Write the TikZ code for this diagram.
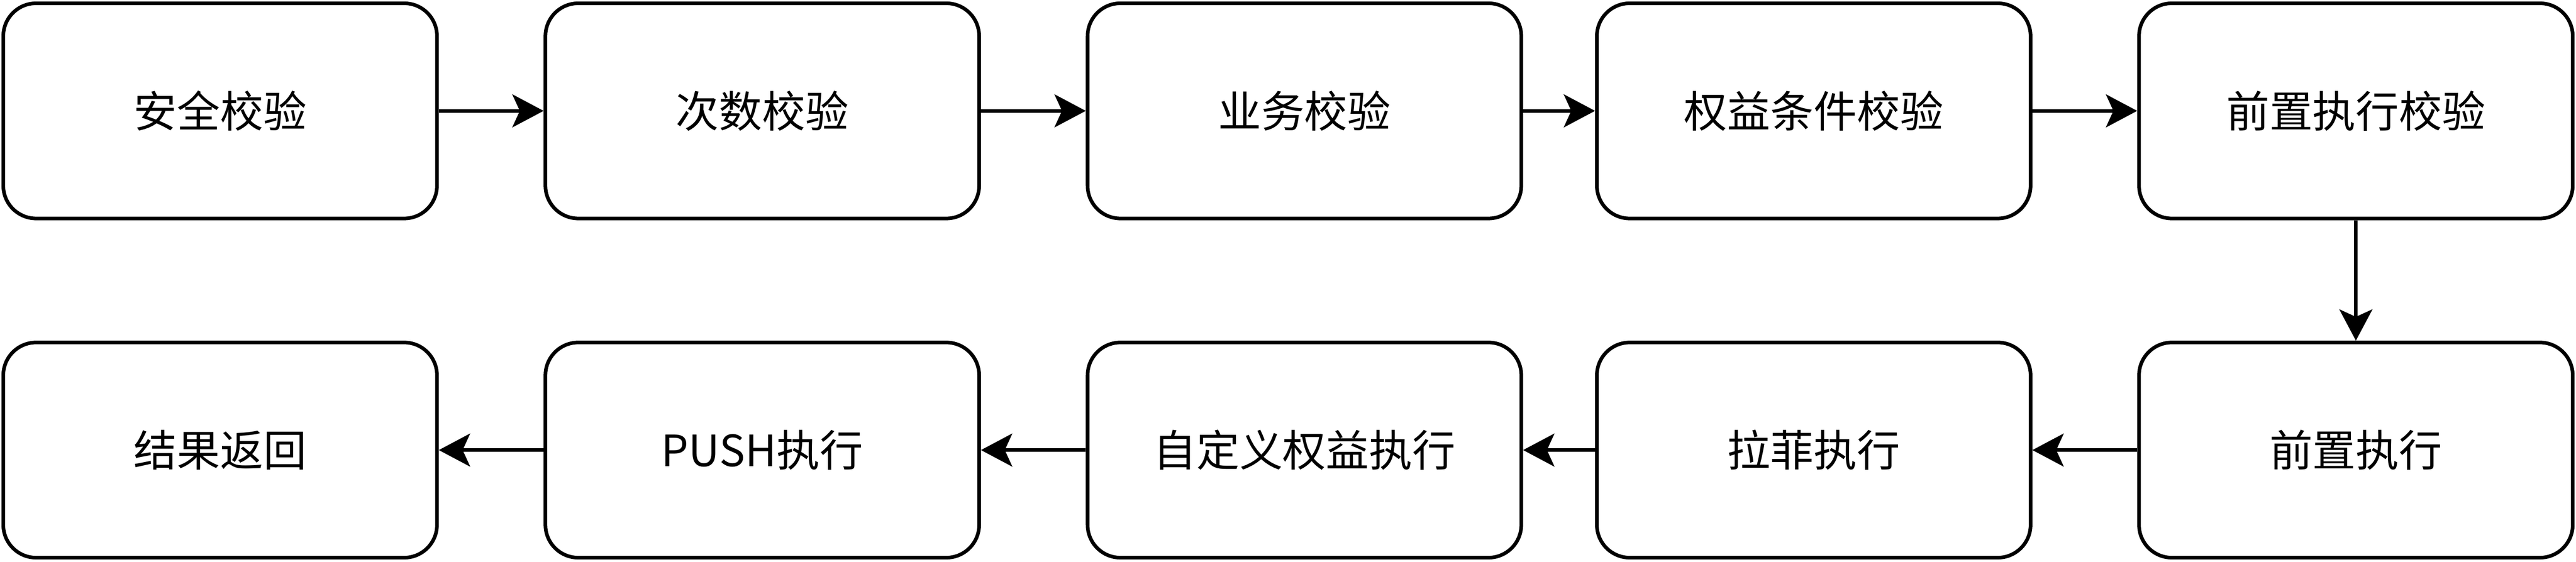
\documentclass[tikz,border=0pt]{standalone}
\usepackage{fontspec}
\setmainfont{Noto Sans CJK SC}
\usetikzlibrary{arrows.meta}

\begin{document}
\begin{tikzpicture}[x=1pt,y=1pt,
    stage/.style={draw,line width=2.2pt,rounded corners=20pt,minimum width=264pt,minimum height=131pt,inner sep=0pt,font=\fontsize{26.3}{30}\selectfont},
    move/.style={-{Stealth[length=19pt,width=20pt,inset=4.5pt]},line width=2.2pt,draw}]

    \useasboundingbox (0,0) rectangle (1568,342);
    \node[stage] (safe) at (134,274.5) {安全校验};
    \node[stage] (count) at (464,274.5) {次数校验};
    \node[stage] (biz) at (794,274.5) {业务校验};
    \node[stage] (cond) at (1104,274.5) {权益条件校验};
    \node[stage] (precheck) at (1434,274.5) {前置执行校验};
    \node[stage] (pre) at (1434,68) {前置执行};
    \node[stage] (lafei) at (1104,68) {拉菲执行};
    \node[stage] (custom) at (794,68) {自定义权益执行};
    \node[stage] (push) at (464,68) {PUSH执行};
    \node[stage] (result) at (134,68) {结果返回};

    \path[move] (safe) -- (count);
    \path[move] (count) -- (biz);
    \path[move] (biz) -- (cond);
    \path[move] (cond) -- (precheck);
    \path[move] (precheck) -- (pre);
    \path[move] (pre) -- (lafei);
    \path[move] (lafei) -- (custom);
    \path[move] (custom) -- (push);
    \path[move] (push) -- (result);
  \end{tikzpicture}
\end{document}
